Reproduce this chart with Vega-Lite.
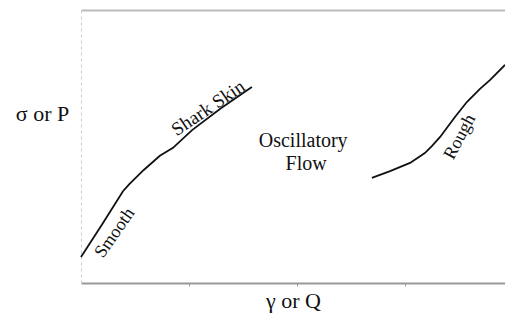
{
  "$schema": "https://vega.github.io/schema/vega-lite/v6.json",
  "width": 424,
  "height": 273,
  "autosize": {"type": "none"},
  "padding": {"left": 81, "top": 10, "right": 0, "bottom": 31},
  "background": "white",
  "config": {"view": {"stroke": null}, "font": "Liberation Serif"},
  "datasets": {
    "curves": [
      {"regime": "smooth", "x": 0, "y": 9.5},
      {"regime": "smooth", "x": 5.0, "y": 21.5},
      {"regime": "smooth", "x": 9.9, "y": 33.6},
      {"regime": "smooth", "x": 11.4, "y": 36.2},
      {"regime": "smooth", "x": 14.8, "y": 41.4},
      {"regime": "smooth", "x": 18.6, "y": 46.6},
      {"regime": "smooth", "x": 21.7, "y": 49.5},
      {"regime": "smooth", "x": 26.2, "y": 56.0},
      {"regime": "smooth", "x": 33.0, "y": 64.0},
      {"regime": "smooth", "x": 40.3, "y": 71.8},
      {"regime": "rough", "x": 68.6, "y": 38.5},
      {"regime": "rough", "x": 72.9, "y": 41.0},
      {"regime": "rough", "x": 77.6, "y": 44.0},
      {"regime": "rough", "x": 81.1, "y": 47.6},
      {"regime": "rough", "x": 82.8, "y": 50.2},
      {"regime": "rough", "x": 84.7, "y": 53.5},
      {"regime": "rough", "x": 88.2, "y": 60.8},
      {"regime": "rough", "x": 91.0, "y": 66.3},
      {"regime": "rough", "x": 94.1, "y": 71.1},
      {"regime": "rough", "x": 96.5, "y": 74.4},
      {"regime": "rough", "x": 100, "y": 79.9}
    ]
  },
  "layer": [
    {
      "data": {"name": "curves"},
      "mark": {"type": "line", "color": "#111", "strokeWidth": 1.8, "interpolate": "linear"},
      "encoding": {
        "x": {"field": "x", "type": "quantitative", "scale": {"domain": [0, 100], "nice": false, "zero": false},
          "axis": {"title": "γ or Q", "titleFont": "Liberation Serif", "titleFontSize": 22, "titleFontWeight": "normal", "titleColor": "#111", "titlePadding": 4,
            "values": [25.5, 51, 76.5], "labels": false, "tickSize": 3, "tickColor": "#999", "domainColor": "#999", "domainWidth": 2, "grid": false}},
        "y": {"field": "y", "type": "quantitative", "scale": {"domain": [0, 100], "nice": false, "zero": false},
          "axis": {"title": "σ or P", "titleFont": "Liberation Serif", "titleFontSize": 22, "titleFontWeight": "normal", "titleColor": "#111", "titleAngle": 0, "titleAlign": "center", "titleBaseline": "middle", "titleX": -39, "titleY": 103,
            "values": [100], "labels": false, "ticks": false, "grid": true, "gridColor": "#bbb", "gridWidth": 2, "domainColor": "#ccc", "domainDash": [3, 3], "domainWidth": 1}},
        "detail": {"field": "regime"}
      }
    },
    {
      "data": {"values": [{"label": "Smooth", "x": 8.0, "y": 18.3}]},
      "mark": {"type": "text", "angle": 305, "font": "Liberation Serif", "fontSize": 18, "color": "#111"},
      "encoding": {"x": {"field": "x", "type": "quantitative"}, "y": {"field": "y", "type": "quantitative"}, "text": {"field": "label"}}
    },
    {
      "data": {"values": [{"label": "Shark Skin", "x": 30.0, "y": 64.1}]},
      "mark": {"type": "text", "angle": 326, "font": "Liberation Serif", "fontSize": 19, "color": "#111"},
      "encoding": {"x": {"field": "x", "type": "quantitative"}, "y": {"field": "y", "type": "quantitative"}, "text": {"field": "label"}}
    },
    {
      "data": {"values": [{"label": "Oscillatory", "x": 52.4, "y": 52.1}, {"label": "Flow", "x": 53.1, "y": 43.5}]},
      "mark": {"type": "text", "font": "Liberation Serif", "fontSize": 20, "color": "#111"},
      "encoding": {"x": {"field": "x", "type": "quantitative"}, "y": {"field": "y", "type": "quantitative"}, "text": {"field": "label"}}
    },
    {
      "data": {"values": [{"label": "Rough", "x": 89.4, "y": 53.5}]},
      "mark": {"type": "text", "angle": 298, "font": "Liberation Serif", "fontSize": 18, "color": "#111"},
      "encoding": {"x": {"field": "x", "type": "quantitative"}, "y": {"field": "y", "type": "quantitative"}, "text": {"field": "label"}}
    }
  ]
}
